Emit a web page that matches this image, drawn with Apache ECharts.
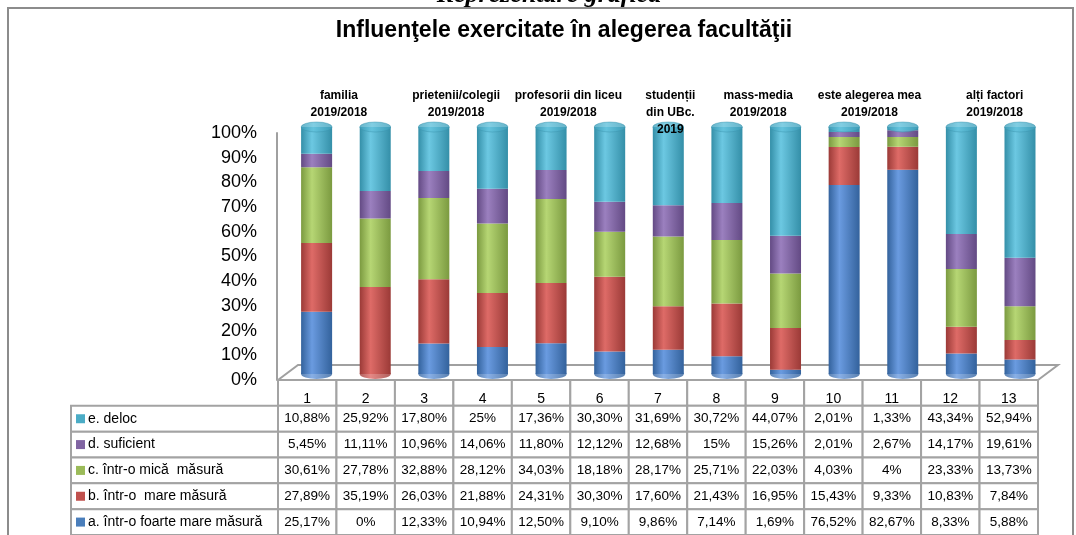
<!DOCTYPE html>
<html>
<head>
<meta charset="utf-8">
<script src="https://cdn.jsdelivr.net/npm/echarts@6/dist/echarts.min.js"></script>
</head>
<body style="margin:0;background:#fff">
<div id="container" style="width:1076px;height:535px"></div>
<script>
var columns = ['1', '2', '3', '4', '5', '6', '7', '8', '9', '10', '11', '12', '13'];
var yTicks = [0, 10, 20, 30, 40, 50, 60, 70, 80, 90, 100];

// stacked from bottom to top
var valA = [25.17, 0, 12.33, 10.94, 12.50, 9.10, 9.86, 7.14, 1.69, 76.52, 82.67, 8.33, 5.88];
var valB = [27.89, 35.19, 26.03, 21.88, 24.31, 30.30, 17.60, 21.43, 16.95, 15.43, 9.33, 10.83, 7.84];
var valC = [30.61, 27.78, 32.88, 28.12, 34.03, 18.18, 28.17, 25.71, 22.03, 4.03, 4, 23.33, 13.73];
var valD = [5.45, 11.11, 10.96, 14.06, 11.80, 12.12, 12.68, 15, 15.26, 2.01, 2.67, 14.17, 19.61];
var valE = [10.88, 25.92, 17.80, 25, 17.36, 30.30, 31.69, 30.72, 44.07, 2.01, 1.33, 43.34, 52.94];

var seriesNames = ['a. într-o foarte mare măsură', 'b. într-o  mare măsură', 'c. într-o mică  măsură', 'd. suficient', 'e. deloc'];

var groupNames = ['familia\n2019/2018', 'prietenii/colegii\n2019/2018', 'profesorii din liceu\n2019/2018',
    'studenții\ndin UBc.\n2019', 'mass-media\n2019/2018', 'este alegerea mea\n2019/2018', 'alți factori\n2019/2018'];
var groupSpans = [[0, 1], [2, 3], [4, 5], [6, 6], [7, 8], [9, 10], [11, 12]];
var groupShift = [-7, -7, -12, 2, 2, -4, 4];

var allValues = [valA, valB, valC, valD, valE];
var baseColors = ['#4a7ebb', '#c0504d', '#9bbb59', '#8064a2', '#4bacc6'];
var lightColors = ['#6a9be0', '#de6b67', '#b6d674', '#9b80bf', '#6cc8e2'];
var darkColors = ['#33629c', '#9b3a37', '#7b9a40', '#634a84', '#348fa8'];

function cyl(i) {
    return {
        type: 'linear', x: 0, y: 0, x2: 1, y2: 0,
        colorStops: [
            { offset: 0, color: darkColors[i] },
            { offset: 0.35, color: lightColors[i] },
            { offset: 1, color: darkColors[i] }
        ]
    };
}

function fmt(v) {
    return (Number.isInteger(v) ? String(v) : v.toFixed(2).replace('.', ',')) + '%';
}

// table cells
var legendStart = -207 / 58.46;
var tableCells = [];
columns.forEach(function (c, i) {
    tableCells.push({ x0: i, x1: i + 1, row: 0, text: c, kind: 'head' });
});
for (var r = 4; r >= 0; r--) {
    var row = 5 - r;
    tableCells.push({ x0: legendStart, x1: 0, row: row, text: seriesNames[r], kind: 'legend', color: baseColors[r] });
    allValues[r].forEach(function (v, i) {
        tableCells.push({ x0: i, x1: i + 1, row: row, text: fmt(v), kind: 'cell' });
    });
}

var totals = columns.map(function (c, i) {
    return allValues.reduce(function (s, arr) { return s + arr[i]; }, 0);
});
var bottomIdx = columns.map(function (c, i) {
    for (var k = 0; k < 5; k++) if (allValues[k][i] > 0) return k;
    return 0;
});

var dom = document.getElementById('container');
var myChart = echarts.init(dom);

var barSeries = allValues.map(function (arr, k) {
    return {
        name: seriesNames[k],
        type: 'bar',
        stack: 'all',
        xAxisIndex: 1,
        yAxisIndex: 1,
        barWidth: 31,
        z: 3,
        data: arr,
        itemStyle: { color: cyl(k) },
        silent: true
    };
});

var option = {
    backgroundColor: '#fff',
    animation: false,
    grid: [
        { left: 277, top: 133, width: 762, height: 247 },
        { left: 287.3, top: 127, width: 762, height: 247 },
        { left: 71, top: 380, width: 967, height: 157.2 }
    ],
    xAxis: [
        { gridIndex: 0, type: 'category', data: columns, show: false },
        { gridIndex: 1, type: 'category', data: columns, show: false },
        { gridIndex: 2, type: 'value', min: legendStart, max: 13, show: false }
    ],
    yAxis: [
        {
            gridIndex: 0, type: 'value', min: yTicks[0], max: yTicks[yTicks.length - 1], interval: 10,
            axisLine: { show: true, lineStyle: { color: '#a0a0a0', width: 2 } },
            axisTick: { show: false },
            splitLine: { show: false },
            axisLabel: {
                formatter: '{value}%', margin: 20, color: '#000',
                fontFamily: 'Liberation Sans', fontSize: 18
            }
        },
        { gridIndex: 1, type: 'value', min: 0, max: 100, show: false },
        { gridIndex: 2, type: 'value', min: 0, max: 6, inverse: true, show: false }
    ],
    series: [
        {
            type: 'scatter', xAxisIndex: 1, yAxisIndex: 1, z: 2, silent: true,
            symbol: 'circle', symbolSize: [31, 10],
            data: columns.map(function (c, i) {
                return { value: [i, 0], itemStyle: { color: cyl(bottomIdx[i]) } };
            })
        }
    ].concat(barSeries).concat([
        {
            type: 'scatter', xAxisIndex: 1, yAxisIndex: 1, z: 4, silent: true,
            symbol: 'circle', symbolSize: [31, 10],
            data: totals.map(function (t, i) { return [i, t]; }),
            itemStyle: {
                color: {
                    type: 'linear', x: 0, y: 0, x2: 1, y2: 0,
                    colorStops: [
                        { offset: 0, color: '#3f9fba' },
                        { offset: 0.4, color: '#62c2dc' },
                        { offset: 1, color: '#3f9fba' }
                    ]
                },
                borderColor: '#3a93ad', borderWidth: 0.5
            }
        },
        {
            type: 'custom', xAxisIndex: 2, yAxisIndex: 2, z: 5, silent: true, clip: false,
            data: tableCells.map(function (c) { return [c.x0, c.x1, c.row]; }),
            renderItem: function (params, api) {
                var cell = tableCells[params.dataIndex];
                var p0 = api.coord([cell.x0, cell.row]);
                var p1 = api.coord([cell.x1, cell.row + 1]);
                var x = p0[0], y = p0[1], w = p1[0] - p0[0], h = p1[1] - p0[1];
                var children = [{
                    type: 'rect', shape: { x: x, y: y, width: w, height: h },
                    style: { fill: '#fff', stroke: '#a3a3a3', lineWidth: 2 }
                }];
                if (cell.kind === 'legend') {
                    children.push({
                        type: 'rect', shape: { x: x + 5, y: y + h / 2 - 4.5, width: 9, height: 9 },
                        style: { fill: cell.color }
                    });
                    children.push({
                        type: 'text', x: x + 17, y: y + h / 2,
                        style: { text: cell.text, fill: '#000', font: '14px "Liberation Sans"', align: 'left', verticalAlign: 'middle' }
                    });
                } else {
                    children.push({
                        type: 'text', x: x + w / 2, y: y + h / 2 + (cell.kind === 'head' ? 6 : 0),
                        style: {
                            text: cell.text, fill: '#000',
                            font: (cell.kind === 'head' ? '14px' : '13.5px') + ' "Liberation Sans"',
                            align: 'center', verticalAlign: 'middle'
                        }
                    });
                }
                return { type: 'group', children: children };
            }
        }
    ])
};

myChart.setOption(option);

// decorations: frame, titles, floor, group labels
var floorFront = 380, floorBack = 365;
var graphics = [
    {
        type: 'rect', z: 0, shape: { x: 8, y: 8, width: 1065, height: 540 },
        style: { fill: 'none', stroke: '#8c8c8c', lineWidth: 2 }
    },
    {
        type: 'text', x: 549, y: 8,
        style: { text: 'Reprezentare grafică', font: 'italic bold 26px "Liberation Serif"', fill: '#000', align: 'center', verticalAlign: 'bottom' }
    },
    {
        type: 'text', x: 564, y: 31,
        style: { text: 'Influenţele exercitate în alegerea facultăţii', font: 'bold 23px "Liberation Sans"', fill: '#000', align: 'center', verticalAlign: 'middle' }
    },
    {
        type: 'polyline', z: 0,
        shape: { points: [[278, floorFront], [298, floorBack], [1058, floorBack], [1038, floorFront]] },
        style: { stroke: '#a0a0a0', lineWidth: 2, fill: 'none' }
    }
];
groupNames.forEach(function (name, g) {
    var xa = myChart.convertToPixel({ xAxisIndex: 1 }, groupSpans[g][0]);
    var xb = myChart.convertToPixel({ xAxisIndex: 1 }, groupSpans[g][1]);
    graphics.push({
        type: 'text', x: (xa + xb) / 2 + groupShift[g], y: 87,
        style: {
            text: name, font: 'bold 12px "Liberation Sans"', fill: '#000',
            align: 'center', verticalAlign: 'top', lineHeight: 17
        },
        z: 10
    });
});
myChart.setOption({ graphic: graphics });
</script>
</body>
</html>
